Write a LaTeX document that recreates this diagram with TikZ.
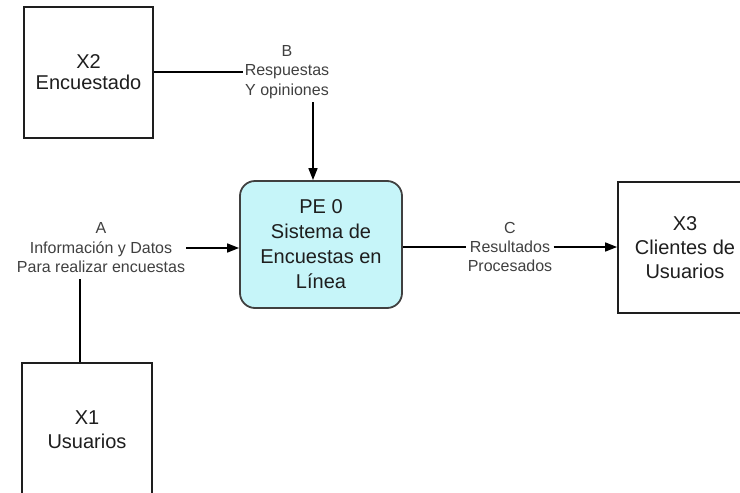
\documentclass[tikz,border=0pt]{standalone}
\usepackage{fontspec}
\setmainfont{Liberation Sans}
\usetikzlibrary{arrows.meta}
\definecolor{procfill}{RGB}{198,245,249}
\definecolor{ink}{RGB}{30,30,30}
\begin{document}
\begin{tikzpicture}[x=1pt,y=-1pt,
  entity/.style={draw=ink, line width=1.8pt, fill=white, text=ink, align=center,
    inner sep=0pt, font=\fontsize{20}{24}\selectfont},
  process/.style={draw=ink!85, line width=1.8pt, fill=procfill, rounded corners=15pt,
    text=ink, align=center, inner sep=0pt, font=\fontsize{20}{25}\selectfont},
  flowlabel/.style={text=ink!85, align=center, inner sep=1.2pt,
    font=\fontsize{16}{19.5}\selectfont},
  flow/.style={draw=black, line width=1.5pt},
  flowarrow/.style={flow, -{Triangle[length=12pt,width=9pt]}}]
\useasboundingbox (0,0) rectangle (740,493);
\clip (0,0) rectangle (740,493);

% external entities and the central process
\node[entity, minimum width=129pt, minimum height=131pt,
      font=\fontsize{20}{21}\selectfont] (X2) at (88.5,72.5) {X2\\Encuestado};
\node[entity, minimum width=130pt, minimum height=133pt] (X1) at (87,429.5) {X1\\Usuarios};
\node[entity, minimum width=134pt, minimum height=131pt] (X3) at (685,247.5) {X3\\Clientes de\\Usuarios};
\node[process, minimum width=162pt, minimum height=127pt] (P) at (321,244.5)
  {PE 0\\Sistema de\\Encuestas en\\Línea};

% data flow labels
\node[flowlabel] (labA) at (101,248) {A\\Información y Datos\\Para realizar encuestas};
\node[flowlabel] (labB) at (287,72) {B\\Respuestas\\Y opiniones};
\node[flowlabel, font=\fontsize{16}{19}\selectfont] (labC) at (510,247) {C\\Resultados\\Procesados};

\coordinate (bDown) at (313,102);
\coordinate (aDown) at (80,279);

% flow B: Encuestado -> process
\draw[flow] (X2.east |- labB) -- (labB.west);
\draw[flowarrow] (bDown) -- (bDown |- P.north);

% flow A: Usuarios -> process
\draw[flow] (aDown) -- (aDown |- X1.north);
\draw[flowarrow] (labA.east) -- (P.west |- labA.east);

% flow C: process -> Clientes de Usuarios
\draw[flow] (P.east |- labC) -- (labC.west);
\draw[flowarrow] (labC.east) -- (X3.west |- labC.east);
\end{tikzpicture}
\end{document}
